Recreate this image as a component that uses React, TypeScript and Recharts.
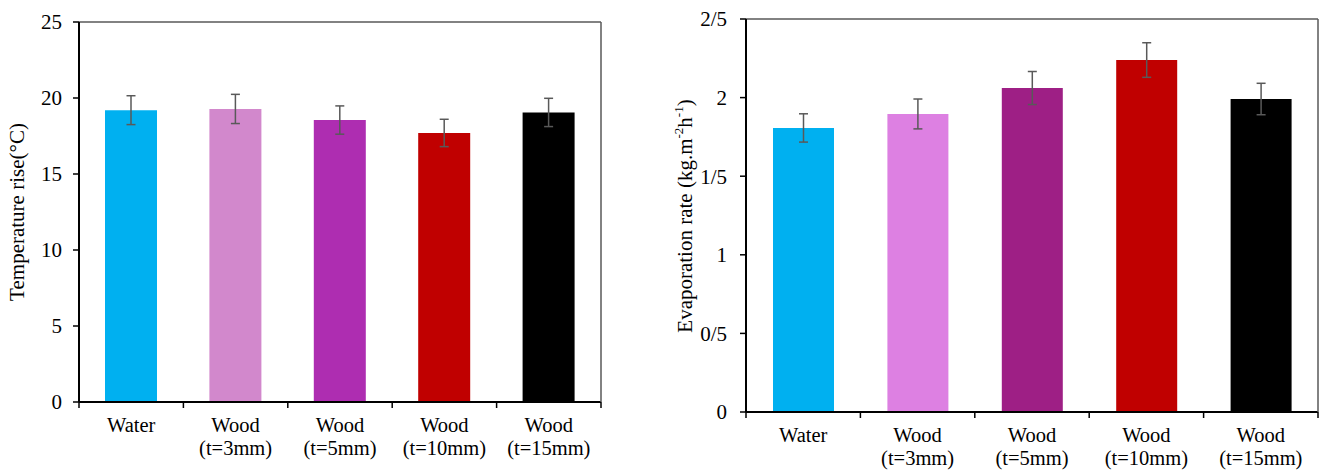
import React from "react";
import { BarChart, Bar, XAxis, YAxis, Cell, ErrorBar } from "recharts";

// categories (second line after \n)
const categories = [
  "Water",
  "Wood\n(t=3mm)",
  "Wood\n(t=5mm)",
  "Wood\n(t=10mm)",
  "Wood\n(t=15mm)",
];

// left panel: temperature rise
const tempRise = [19.2, 19.28, 18.55, 17.7, 19.05];
const tempErr = [0.95, 0.96, 0.93, 0.9, 0.93];
const tempColors = ["#00B0F0", "#D288CC", "#AE2DB1", "#C00000", "#000000"];
const tempTicks = [0, 5, 10, 15, 20, 25];

// right panel: evaporation rate
const evapRate = [1.807, 1.896, 2.061, 2.239, 1.991];
const evapErr = [0.09, 0.095, 0.105, 0.11, 0.1];
const evapColors = ["#00B0F0", "#DD80E2", "#9E1F85", "#C00000", "#000000"];
const evapTicks = [0, 0.5, 1, 1.5, 2, 2.5];
const evapTickLabels = ["0", "0/5", "1", "1/5", "2", "2/5"];

const FONT = "'Liberation Serif', 'Times New Roman', serif";
const FS = 21;
const FRAME = "#595959";

const tempData = categories.map((name, i) => ({
  name,
  value: tempRise[i],
  err: tempErr[i],
}));
const evapData = categories.map((name, i) => ({
  name,
  value: evapRate[i],
  err: evapErr[i],
}));

// label in two lines + tick marks on the category boundaries (Excel style)
const CategoryTick = (props: any) => {
  const { x, y, payload, index } = props;
  const half = payload.offset || 0;
  const lines = String(payload.value).split("\n");
  return (
    <g>
      <line x1={x - half} x2={x - half} y1={y} y2={y + 6} stroke="#000" strokeWidth={1.5} />
      {index === categories.length - 1 && (
        <line x1={x + half} x2={x + half} y1={y} y2={y + 6} stroke="#000" strokeWidth={1.5} />
      )}
      <text x={x} y={y} textAnchor="middle" fontFamily={FONT} fontSize={20.5} fill="#000">
        {lines.map((l, i) => (
          <tspan key={i} x={x} dy={i === 0 ? 30 : 23}>
            {l}
          </tspan>
        ))}
      </text>
    </g>
  );
};

const tickStyle = { fontFamily: FONT, fontSize: FS, fill: "#000" };

const Panel = ({
  data,
  colors,
  ticks,
  tickFormatter,
  width,
  margin,
  yAxisWidth,
  tickMargin,
  barSize,
  label,
}: any) => (
  <BarChart width={width} height={471} data={data} margin={margin}>
    <XAxis
      dataKey="name"
      height={40}
      tickSize={0}
      tickMargin={0}
      tickLine={false}
      interval={0}
      axisLine={{ stroke: "#000", strokeWidth: 2 }}
      tick={<CategoryTick />}
    />
    {/* frame top / right */}
    <XAxis
      xAxisId="top"
      orientation="top"
      type="number"
      domain={[0, 1]}
      height={1}
      tick={false}
      tickLine={false}
      axisLine={{ stroke: FRAME, strokeWidth: 1.5 }}
    />
    <YAxis
      yAxisId="frame"
      orientation="right"
      domain={[0, 1]}
      width={1}
      tick={false}
      tickLine={false}
      axisLine={{ stroke: FRAME, strokeWidth: 1.5 }}
    />
    <YAxis
      width={yAxisWidth}
      domain={[ticks[0], ticks[ticks.length - 1]]}
      ticks={ticks}
      interval={0}
      tickFormatter={tickFormatter}
      tick={tickStyle}
      tickSize={6}
      tickMargin={tickMargin}
      tickLine={{ stroke: "#000", strokeWidth: 1.5 }}
      axisLine={{ stroke: "#000", strokeWidth: 2 }}
      label={label}
    />
    <Bar dataKey="value" barSize={barSize} isAnimationActive={false}>
      {data.map((_: any, i: number) => (
        <Cell key={i} fill={colors[i]} />
      ))}
      <ErrorBar dataKey="err" width={4.5} stroke={FRAME} strokeWidth={1.5} isAnimationActive={false} />
    </Bar>
  </BarChart>
);

const App = () => {
  return (
    <div
      style={{
        position: "absolute",
        left: 0,
        top: 0,
        width: 1323,
        height: 471,
        display: "flex",
        background: "#fff",
      }}
    >
      <Panel
        data={tempData}
        colors={tempColors}
        ticks={tempTicks}
        tickFormatter={(v: number) => String(v)}
        width={640}
        margin={{ top: 21, right: 38, bottom: 29, left: 0 }}
        yAxisWidth={79}
        tickMargin={11}
        barSize={52}
        label={() => (
          <text
            transform="translate(17,212) rotate(-90)"
            textAnchor="middle"
            dominantBaseline="central"
            fontFamily={FONT}
            fontSize={FS}
            fill="#000"
          >
            Temperature rise(°C)
          </text>
        )}
      />
      <Panel
        data={evapData}
        colors={evapColors}
        ticks={evapTicks}
        tickFormatter={(v: number) => evapTickLabels[evapTicks.indexOf(v)]}
        width={683}
        margin={{ top: 18, right: 4, bottom: 19, left: 0 }}
        yAxisWidth={106}
        tickMargin={13}
        barSize={61}
        label={() => (
          <text
            transform="translate(45,216) rotate(-90)"
            textAnchor="middle"
            dominantBaseline="central"
            fontFamily={FONT}
            fontSize={FS}
            fill="#000"
          >
            Evaporation rate (kg.m
            <tspan fontSize={13} dy={-7}>-2</tspan>
            <tspan dy={7}>h</tspan>
            <tspan fontSize={13} dy={-7}>-1</tspan>
            <tspan dy={7}>)</tspan>
          </text>
        )}
      />
    </div>
  );
};

export default App;
